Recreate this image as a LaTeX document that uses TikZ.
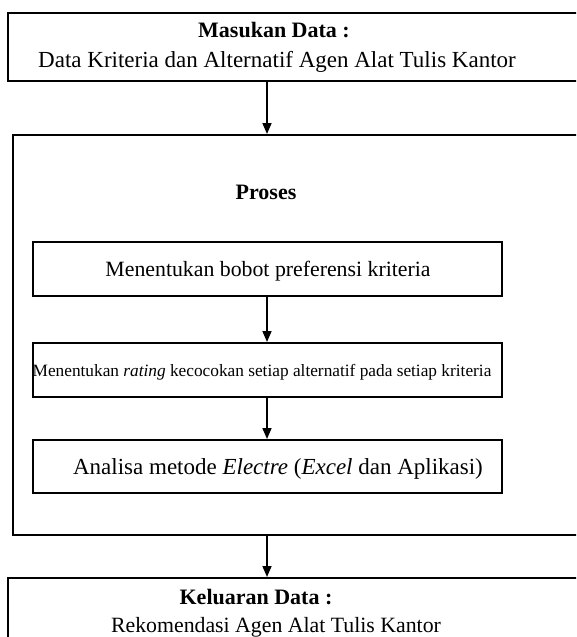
\documentclass[tikz,border=0pt]{standalone}
\usepackage{fontspec}
\setmainfont{Liberation Serif}
\usetikzlibrary{arrows.meta}
\begin{document}
\begin{tikzpicture}[x=1pt,y=-1pt,
  box/.style={draw=black,line width=2pt,rectangle,inner sep=0pt},
  txt/.style={inner sep=0pt,font=\fontsize{23}{27}\selectfont},
  midtxt/.style={inner sep=0pt,font=\fontsize{21.8}{26}\selectfont},
  boldtxt/.style={inner sep=0pt,font=\fontsize{22}{26}\selectfont\bfseries},
  smalltxt/.style={inner sep=0pt,font=\fontsize{17.3}{20}\selectfont},
  arr/.style={line width=1.6pt,-{Triangle[width=9pt,length=11pt]}}]
\useasboundingbox (0,0) rectangle (576,637);
\clip (0,0) rectangle (576,637);
\fill[white] (0,0) rectangle (576,637);
% boxes
\node[box,minimum width=592pt,minimum height=68pt] (in) at (304,47) {};
\node[box,minimum width=587pt,minimum height=400pt] (proc) at (306.5,335) {};
\node[box,minimum width=469pt,minimum height=54pt] (s1) at (267.5,269) {};
\node[box,minimum width=469pt,minimum height=54pt] (s2) at (267.5,370) {};
\node[box,minimum width=469pt,minimum height=53pt] (s3) at (267.5,466.5) {};
\node[box,minimum width=592pt,minimum height=82pt] (out) at (304,619) {};
% texts
\node[boldtxt,anchor=base] (t1) at (274,37) {Masukan Data :};
\node[txt,anchor=base] (t2) at (277,67) {Data Kriteria dan Alternatif Agen Alat Tulis Kantor};
\node[boldtxt,anchor=base] (tp) at (266,199) {Proses};
\node[midtxt,anchor=base] (ts1) at (268,276) {Menentukan bobot preferensi kriteria};
\node[smalltxt,anchor=base] (ts2) at (262,376) {Menentukan \textit{rating} kecocokan setiap alternatif pada setiap kriteria};
\node[txt,anchor=base] (ts3) at (278,474) {Analisa metode \textit{Electre} (\textit{Excel} dan Aplikasi)};
\node[boldtxt,anchor=base] (to1) at (256,604) {Keluaran Data :};
\node[midtxt,anchor=base] (to2) at (276,632) {Rekomendasi Agen Alat Tulis Kantor};
% connectors
\coordinate (ax) at (267,0);
\draw[arr] (in.south -| ax) -- (proc.north -| ax);
\draw[arr] (s1.south -| ax) -- (s2.north -| ax);
\draw[arr] (s2.south -| ax) -- (s3.north -| ax);
\draw[arr] (proc.south -| ax) -- (out.north -| ax);
\end{tikzpicture}
\end{document}
